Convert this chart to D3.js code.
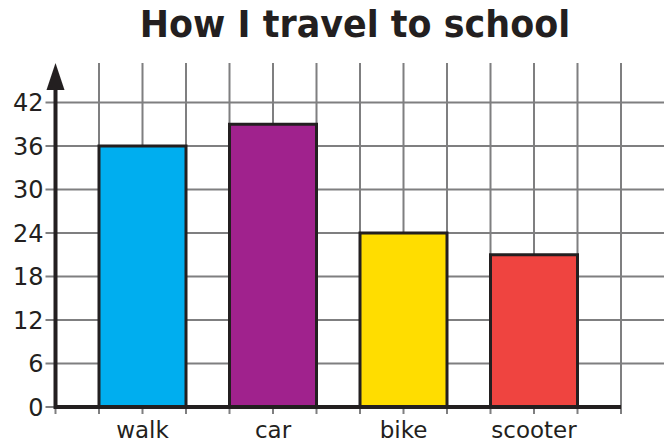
<!DOCTYPE html>
<html>
<head>
<meta charset="utf-8">
<script src="https://cdn.jsdelivr.net/npm/d3@7"></script>
<style>
  body { margin: 0; background: #fff; }
  svg { display: block; }
</style>
</head>
<body>
<div id="chart"></div>
<script>
// chart data
var categories = ["walk", "car", "bike", "scooter"];
var values = [36, 39, 24, 21];
var barColors = ["#00aeef", "#a0228d", "#ffdd00", "#ef4440"];
var yTicks = [0, 6, 12, 18, 24, 30, 36, 42];

var svgWidth = 664;
var svgHeight = 445;

// grid is square: one cell = 6 units high, same width
var cell = 43.5;
var x0 = 55.5;      // y axis position
var y0 = 407;       // x axis position
var cols = 13;

var svg = d3.select("#chart")
    .append("svg")
    .attr("width", svgWidth)
    .attr("height", svgHeight);

// scales
var yScale = d3.scaleLinear()
    .domain([0, 42])
    .range([y0, y0 - 7 * cell]);

var gridX = d3.scaleLinear()
    .domain([0, cols])
    .range([x0, x0 + cols * cell]);

var xScale = d3.scaleBand()
    .domain(categories)
    .range([gridX(0.5), gridX(12.5)])
    .paddingInner(1 / 3)
    .paddingOuter(1 / 6);

var gridColor = "#7f7f80";
var ink = "#231f20";

// horizontal grid lines (including left tick stubs)
svg.append("g")
    .selectAll("line")
    .data(yTicks.filter(d => d > 0))
    .enter()
    .append("line")
    .attr("x1", x0 - 10)
    .attr("x2", svgWidth)
    .attr("y1", d => yScale(d))
    .attr("y2", d => yScale(d))
    .attr("stroke", gridColor)
    .attr("stroke-width", 2);

// vertical grid lines (extend below the axis as ticks)
svg.append("g")
    .selectAll("line")
    .data(d3.range(0, cols + 1))
    .enter()
    .append("line")
    .attr("x1", d => gridX(d))
    .attr("x2", d => gridX(d))
    .attr("y1", d => d === 0 ? y0 : 63)
    .attr("y2", y0 + 7)
    .attr("stroke", gridColor)
    .attr("stroke-width", 2);

// zero tick stub on the left
svg.append("line")
    .attr("x1", x0 - 10)
    .attr("x2", x0)
    .attr("y1", yScale(0))
    .attr("y2", yScale(0))
    .attr("stroke", gridColor)
    .attr("stroke-width", 2);

// bars
svg.append("g")
    .selectAll("rect")
    .data(values)
    .enter()
    .append("rect")
    .attr("x", (d, i) => xScale(categories[i]))
    .attr("y", d => yScale(d))
    .attr("width", xScale.bandwidth())
    .attr("height", d => yScale(0) - yScale(d))
    .attr("fill", (d, i) => barColors[i])
    .attr("stroke", ink)
    .attr("stroke-width", 3);

// x axis line
svg.append("line")
    .attr("x1", x0)
    .attr("x2", gridX(cols))
    .attr("y1", y0)
    .attr("y2", y0)
    .attr("stroke", ink)
    .attr("stroke-width", 4);

// y axis line with arrow
svg.append("line")
    .attr("x1", x0)
    .attr("x2", x0)
    .attr("y1", y0 + 2)
    .attr("y2", 85)
    .attr("stroke", ink)
    .attr("stroke-width", 4);

svg.append("path")
    .attr("d", `M${x0},63 L${x0 - 9},90 L${x0 + 9},90 Z`)
    .attr("fill", ink);

// y tick labels
svg.append("g")
    .selectAll("text")
    .data(yTicks)
    .enter()
    .append("text")
    .attr("x", x0 - 12)
    .attr("y", d => yScale(d))
    .attr("dy", "0.36em")
    .attr("text-anchor", "end")
    .attr("font-family", "DejaVu Sans, sans-serif")
    .attr("font-size", "24px")
    .attr("fill", ink)
    .text(d => d);

// category labels
svg.append("g")
    .selectAll("text")
    .data(categories)
    .enter()
    .append("text")
    .attr("x", d => xScale(d) + xScale.bandwidth() / 2)
    .attr("y", 438)
    .attr("text-anchor", "middle")
    .attr("font-family", "DejaVu Sans, sans-serif")
    .attr("font-size", "23px")
    .attr("fill", ink)
    .text(d => d);

// title (slightly condensed to match the original face)
svg.append("text")
    .attr("transform", "translate(355, 37) scale(0.92, 1)")
    .attr("text-anchor", "middle")
    .attr("font-family", "DejaVu Sans, sans-serif")
    .attr("font-weight", "bold")
    .attr("font-size", "38px")
    .attr("fill", ink)
    .text("How I travel to school");
</script>
</body>
</html>
